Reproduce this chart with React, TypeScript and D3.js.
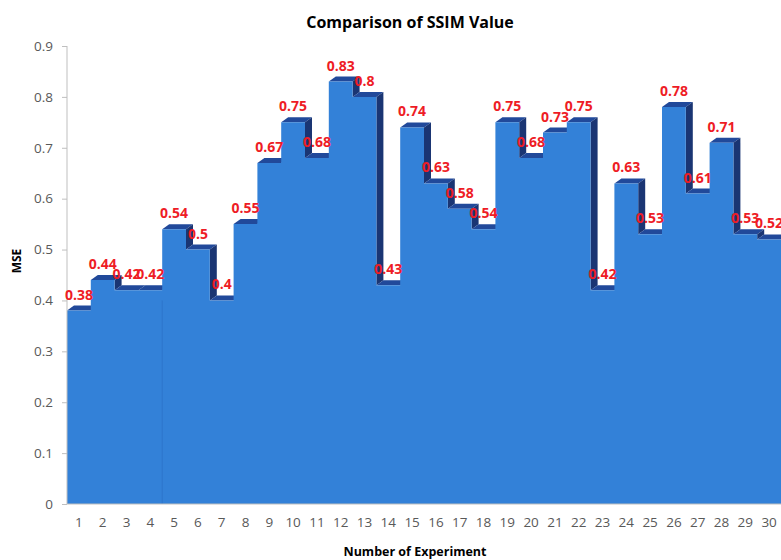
import { useEffect, useRef } from "react";
import * as d3 from "d3";

const EXPERIMENTS = d3.range(1, 31).map(String);
const SSIM = [
  0.38, 0.44, 0.42, 0.42, 0.54, 0.5, 0.4, 0.55, 0.67, 0.75,
  0.68, 0.83, 0.8, 0.43, 0.74, 0.63, 0.58, 0.54, 0.75, 0.68,
  0.73, 0.75, 0.42, 0.63, 0.53, 0.78, 0.61, 0.71, 0.53, 0.52,
];
const Y_TICKS = [0, 0.1, 0.2, 0.3, 0.4, 0.5, 0.6, 0.7, 0.8, 0.9];

const FRONT = "#3381d8";
const TOP = "#21499a";
const SIDE = "#1a3573";

export default function App() {
  const svgRef = useRef<SVGSVGElement>(null);

  useEffect(() => {
    if (!svgRef.current) return;
    const width = 781;
    const height = 560;
    const margin = { top: 46, right: 0, bottom: 56, left: 67 };
    const innerW = width - margin.left - margin.right;
    const innerH = height - margin.top - margin.bottom;
    const dx = 7;
    const dy = 5;

    const svg = d3.select(svgRef.current);
    svg.selectAll("*").remove();
    svg.attr("width", width).attr("height", height);

    const g = svg.append("g").attr("transform", `translate(${margin.left},${margin.top})`);

    const x = d3.scaleBand().domain(EXPERIMENTS).range([0, innerW]).padding(0);
    const y = d3.scaleLinear().domain([0, 0.9]).range([innerH, 0]);

    const data = SSIM.map((v, i) => ({ key: EXPERIMENTS[i], value: v }));

    // dark faces first (top faces + side walls at drops)
    data.forEach((d, i) => {
      const x0 = x(d.key) ?? 0;
      const x1 = x0 + x.bandwidth();
      const yv = y(d.value);
      g.append("path")
        .attr("d", `M${x0},${yv}L${x1},${yv}L${x1 + dx},${yv - dy}L${x0 + dx},${yv - dy}Z`)
        .attr("fill", TOP);
      const next = data[i + 1];
      const yn = next ? y(next.value) : innerH;
      if (yn > yv) {
        g.append("path")
          .attr("d", `M${x1},${yv}L${x1 + dx},${yv - dy}L${x1 + dx},${yn - dy}L${x1},${yn}Z`)
          .attr("fill", SIDE);
      }
    });

    // front face as a step area
    const stepped = [...data, { key: "end", value: data[data.length - 1].value }];
    const area = d3
      .area<{ key: string; value: number }>()
      .x((d) => (d.key === "end" ? innerW : x(d.key) ?? 0))
      .y0(innerH)
      .y1((d) => y(d.value))
      .curve(d3.curveStepAfter);
    g.append("path").datum(stepped).attr("d", area).attr("fill", FRONT);

    // faint seam seen in the original
    g.append("line")
      .attr("x1", x("5") ?? 0)
      .attr("x2", x("5") ?? 0)
      .attr("y1", y(0.4))
      .attr("y2", innerH)
      .attr("stroke", "#2d75cb")
      .attr("stroke-width", 1);

    // axis lines
    g.append("line")
      .attr("x1", 0)
      .attr("x2", 0)
      .attr("y1", 0)
      .attr("y2", innerH)
      .attr("stroke", "#bfbfbf");
    g.append("line")
      .attr("x1", 0)
      .attr("x2", innerW)
      .attr("y1", innerH)
      .attr("y2", innerH)
      .attr("stroke", "#bfbfbf");

    const yAxis = g
      .append("g")
      .call(
        d3
          .axisLeft(y)
          .tickValues(Y_TICKS)
          .tickSize(5)
          .tickPadding(9)
          .tickFormat((v) => String(v))
      );
    yAxis.select(".domain").remove();
    yAxis.selectAll("line").attr("stroke", "#bfbfbf");
    yAxis
      .selectAll("text")
      .style("fill", "#595959")
      .style("font-family", "'Open Sans', sans-serif")
      .style("font-size", "13.5px");

    const xAxis = g
      .append("g")
      .attr("transform", `translate(0,${innerH})`)
      .call(d3.axisBottom(x).tickSize(0).tickPadding(13));
    xAxis.select(".domain").remove();
    xAxis
      .selectAll("text")
      .style("fill", "#595959")
      .style("font-family", "'Open Sans', sans-serif")
      .style("font-size", "13.5px");

    // value labels
    g.selectAll("text.val")
      .data(data)
      .enter()
      .append("text")
      .attr("class", "val")
      .attr("x", (d) => (x(d.key) ?? 0) + x.bandwidth() / 2)
      .attr("y", (d) => y(d.value) - 11)
      .attr("text-anchor", "middle")
      .style("fill", "#ee1c25")
      .style("font-family", "'Open Sans', sans-serif")
      .style("font-weight", "bold")
      .style("font-size", "14px")
      .text((d) => String(d.value));

    // titles
    svg
      .append("text")
      .attr("x", 410)
      .attr("y", 28)
      .attr("text-anchor", "middle")
      .style("font-family", "'Open Sans', sans-serif")
      .style("font-weight", "bold")
      .style("font-size", "16px")
      .text("Comparison of SSIM Value");

    svg
      .append("text")
      .attr("x", 415)
      .attr("y", 556)
      .attr("text-anchor", "middle")
      .style("font-family", "'Open Sans', sans-serif")
      .style("font-weight", "bold")
      .style("font-size", "12.5px")
      .text("Number of Experiment");

    svg
      .append("text")
      .attr("transform", "translate(21,261) rotate(-90)")
      .attr("text-anchor", "middle")
      .style("font-family", "'Open Sans', sans-serif")
      .style("font-weight", "bold")
      .style("font-size", "12px")
      .text("MSE");
  }, []);

  return (
    <div style={{ position: "absolute", left: 0, top: 0 }}>
      <svg ref={svgRef} style={{ display: "block" }} />
    </div>
  );
}
